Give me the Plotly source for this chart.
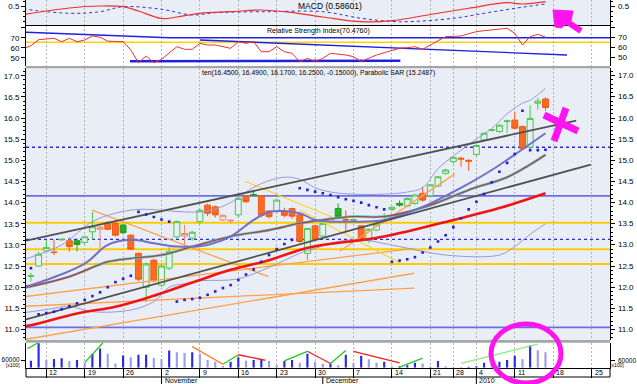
import plotly.graph_objects as go

# ---------------- data ----------------
# trading-day positions (0 = Mon 12 Oct 2009)
day = list(range(-2, 66))
opens = [12.26, 12.50, 12.86, 12.83, 13.12, 13.10, 13.10, 13.06, 13.31, 13.37,
         13.52, 13.51, 13.47, 13.23, 12.80, 12.00, 12.64, 12.05, 12.45, 13.19,
         13.21, 13.16, 13.55, 13.94, 13.90, 13.59, 13.57, 13.71, 14.15, 14.19,
         14.16, 13.80, 13.79, 13.78, 13.86, 13.71, 12.80, 13.45, 13.21, 13.55,
         13.86, 13.60, 13.58, 13.45, 13.10, 13.35, 13.66, 13.84, 13.98, 13.92,
         13.98, 14.22, 14.16, 14.39, 14.69, 14.97, 15.05, 15.00, 15.14, 15.48,
         15.71, 15.68, 15.92, 15.95, 15.80, 15.31, 16.35, 16.45]
highs = [12.34, 12.84, 13.12, 13.13, 13.15, 13.18, 13.15, 13.22, 13.78, 13.44,
         13.56, 13.53, 13.50, 13.25, 12.82, 12.58, 12.67, 12.55, 12.95, 13.58,
         13.47, 13.33, 13.85, 13.98, 13.93, 13.72, 13.60, 14.12, 14.17, 14.28,
         14.18, 13.82, 14.08, 13.88, 13.88, 13.73, 13.40, 13.47, 13.52, 13.65,
         13.98, 13.82, 13.62, 13.47, 13.39, 13.52, 13.75, 13.90, 14.05, 14.12,
         14.20, 14.38, 14.44, 14.63, 14.80, 15.10, 15.08, 15.02, 15.36, 15.66,
         15.75, 15.85, 15.96, 16.15, 15.82, 16.30, 16.48, 16.49]
lows = [12.13, 12.48, 12.83, 12.76, 13.10, 12.84, 12.85, 13.00, 13.12, 12.92,
        13.35, 13.20, 13.25, 12.88, 12.15, 11.65, 12.12, 12.00, 12.40, 13.15,
        13.00, 13.10, 13.50, 13.68, 13.65, 13.56, 13.50, 13.65, 14.00, 14.15,
        13.65, 13.62, 13.75, 13.65, 13.62, 13.05, 12.64, 13.10, 13.18, 13.52,
        13.62, 13.28, 13.52, 13.10, 13.05, 13.33, 13.58, 13.80, 13.90, 13.90,
        13.95, 14.02, 14.14, 14.37, 14.66, 14.92, 14.85, 14.75, 15.10, 15.45,
        15.68, 15.65, 15.65, 15.74, 15.26, 15.28, 16.20, 16.17]
closes = [12.27, 12.78, 12.94, 12.82, 13.13, 12.96, 13.01, 13.19, 13.43, 13.42,
          13.37, 13.23, 13.29, 12.90, 12.19, 12.55, 12.15, 12.50, 12.84, 13.55,
          13.27, 13.30, 13.82, 13.75, 13.71, 13.70, 13.58, 14.10, 14.02, 14.17,
          13.70, 13.67, 14.06, 13.70, 13.68, 13.08, 13.39, 13.13, 13.51, 13.63,
          13.67, 13.59, 13.60, 13.13, 13.37, 13.49, 13.67, 13.89, 13.94, 14.10,
          14.18, 14.06, 14.42, 14.61, 14.77, 15.07, 15.03, 14.98, 15.35, 15.64,
          15.72, 15.83, 15.93, 15.76, 15.28, 15.99, 16.40, 16.25]
volume = [54000, 190000, 60000, 68000, 74000, 52000, 60000, 38000, 109000, 150000,
          109000, 33000, 95000, 82000, 101000, 101000, 76000, 68000, 134000, 120000,
          115000, 120000, 109000, 60000, 46000, 13000, 46000, 82000, 54000, 60000,
          60000, 52000, 19000, 52000, 60000, 38000, 109000, 46000, 30000, 33000,
          19000, 101000, 38000, 93000, 66000, 38000, 46000, 11000, 11000, 19000,
          38000, 33000, 11000, 52000, 11000, 8000, 5000, 8000, 11000, 38000,
          33000, 46000, 60000, 93000, 66000, 175000, 137000, 120000]
sar = [12.45, 11.36, 11.39, 11.42, 11.48, 11.55, 11.62, 11.70, 11.79, 11.88,
       12.00, 12.12, 12.20, 12.27, 13.78, 13.72, 13.66, 13.60, 13.55, 11.66,
       11.70, 11.72, 11.75, 11.82, 11.90, 11.98, 12.05, 12.17, 12.30, 12.42,
       12.60, 12.76, 12.90, 13.02, 13.12, 14.34, 14.30, 14.26, 14.22, 14.18,
       14.13, 14.08, 14.04, 14.00, 13.94, 13.89, 13.84, 12.60, 12.63, 12.66,
       12.71, 12.82, 12.94, 13.08, 13.23, 13.42, 13.63, 13.84, 14.02, 14.20,
       14.48, 14.73, 14.94, 15.15, 16.17, 15.24, 15.24, 15.25]

# Bollinger-style bands and moving averages (read at selected days)
bb_up_x = [-3, -2, 2, 6, 9, 12, 15, 18, 21, 24, 26, 28, 31, 33, 35, 37, 40, 44, 47, 49, 51, 53, 56, 58, 60, 62, 63, 65]
bb_up = [12.65, 12.71, 13.00, 13.55, 13.75, 13.84, 13.82, 13.78, 13.80, 14.00, 14.25, 14.45, 14.60, 14.55,
         14.35, 14.25, 14.20, 14.20, 14.25, 14.35, 14.80, 15.10, 15.50, 15.75, 16.10, 16.35, 16.42, 16.70]
bb_lo_x = [-3, -2, 1, 3, 6, 11, 14, 16, 18, 20, 25, 30, 33, 35, 38, 41, 46, 52, 59, 61, 63, 65]
bb_lo = [11.40, 11.42, 11.50, 11.55, 11.42, 11.46, 11.66, 12.00, 12.08, 12.15, 12.20, 12.55, 12.80, 12.92,
         13.08, 13.12, 12.96, 12.76, 12.76, 12.96, 13.25, 13.50]
bb_mid_x = [-3, -2, 5, 8, 11, 14, 17, 21, 24, 27, 29, 33, 35, 40, 44, 49, 55, 58, 65]
bb_mid = [12.02, 12.05, 12.56, 13.00, 13.12, 13.04, 12.96, 13.00, 13.20, 13.59, 13.78, 13.75, 13.59, 13.55,
          13.59, 13.90, 14.45, 14.77, 15.64]
ma_mid_x = [-3, -2, 3, 8, 11, 15, 19, 24, 29, 33, 36, 40, 44, 50, 55, 60, 63, 65]
ma_mid = [11.99, 12.02, 12.25, 12.60, 12.68, 12.76, 12.96, 13.20, 13.35, 13.51, 13.59, 13.67, 13.67, 13.94,
          14.30, 14.60, 14.90, 15.13]
ma_long_x = [-3, -2, 4, 9, 13, 20, 24, 29, 33, 35, 44, 53, 59, 65]
ma_long = [11.08, 11.10, 11.38, 11.54, 11.74, 12.17, 12.41, 12.64, 12.88, 12.97, 13.20, 13.59, 13.87, 14.22]

# drawn trend lines on the price panel: [start day, end day], [start price, end price]
gray_lines_x = [[-2.64, 69.0], [-2.64, 70.9]]
gray_lines_y = [[13.10, 15.94], [11.24, 14.90]]
orange_lines_x = [[-2.64, 47.9], [-2.64, 47.9], [-2.64, 47.9], [5.95, 28.9], [38.2, 53.2]]
orange_lines_y = [[11.78, 12.92], [10.77, 12.33], [11.55, 11.98], [13.82, 12.25], [12.85, 14.68]]
yellow_lines_x = [[25.9, 37.6], [33.0, 46.1]]
yellow_lines_y = [[14.50, 13.63], [13.82, 12.57]]
yellow_levels = [13.525, 12.90, 12.55]
blue_levels = [14.16, 11.05]
dotted_levels = [15.31, 13.13]

# volume trend lines
vol_lines = {
    "green": ([[-2.47, -1], [5, 7.4], [23, 25], [31, 34], [37, 39], [46, 49]],
              [[148000, 197000], [40000, 197000], [27000, 101000], [54000, 128000], [33000, 134000], [5000, 74000]]),
    "red": ([[25, 28.5], [34, 37], [40, 46]],
            [[101000, 58000], [128000, 33000], [128000, 38000]]),
    "orange": ([[19, 23]], [[164000, 27000]]),
    "lightgreen": ([[54, 64]], [[33000, 183000]]),
}

# RSI
rsi_x = list(range(-3, 66))
rsi = [59, 62, 68, 68.5, 69.4, 66, 69.4, 66, 67.7, 71.7, 70.5, 66.5, 66, 66, 57.7, 45, 51.7, 45, 48.4, 55,
       61, 58.4, 58.4, 64.4, 62.7, 62.7, 61, 59.4, 66, 64.4, 66, 56, 56, 61, 56, 54.4, 46, 49.4, 46, 49.4,
       54.4, 53.5, 52.7, 51, 46, 49.5, 52.7, 55, 57.5, 59.4, 60, 61, 58.4, 63, 67, 71, 71.5, 71.7, 74, 76,
       77, 78, 79, 79.4, 74.4, 62.7, 71, 73.4, 70.5]
rsi_levels = [65.4]
rsi_lines_x = [[-2.64, 16, 73.4], [20, 67.8]]
rsi_lines_y = [[75.4, 70, 70], [67.7, 52.7]]
rsi_support_x = [10.9, 46.1]
rsi_support_y = [46.4, 47.0]

# MACD
macd_x = [-3, 3, 7, 10, 12, 15, 17, 20, 24, 28, 31, 36, 41, 45, 50, 55, 60, 62, 65]
macd = [0.33, 0.46, 0.50, 0.486, 0.40, 0.25, 0.28, 0.354, 0.386, 0.42, 0.386, 0.28, 0.186, 0.206, 0.33,
        0.455, 0.566, 0.54, 0.586]
signal_x = [-3, 3, 7, 10, 15, 19, 22, 29, 36, 41, 46, 53, 57, 61, 65]
signal = [0.44, 0.354, 0.386, 0.486, 0.434, 0.32, 0.366, 0.386, 0.386, 0.254, 0.186, 0.254, 0.354, 0.454, 0.54]

tick_pos = [0, 5, 10, 15, 20, 25, 30, 35, 40, 45, 50, 53, 56, 61, 66, 71]
tick_text = ["12", "19", "26", "2", "9", "16", "23", "30", "7", "14", "21", "28", "4", "11", "18", "25"]
month_pos = [15, 36, 56]
month_text = ["November", "December", "2010"]
price_ticks = [11.0, 11.5, 12.0, 12.5, 13.0, 13.5, 14.0, 14.5, 15.0, 15.5, 16.0, 16.5, 17.0]
rsi_ticks = [50, 60, 70]
macd_ticks = [0.5]
vol_ticks = [60000]

# ---------------- figure ----------------
W, H = 637, 384
ML, MR, MT, MB = 26, 27, 0, 16
PH = H - MT - MB
PW = W - ML - MR


def py(ypx):
    return (PH - ypx) / PH


def px(xpx):
    return (xpx - ML) / PW


BG = "#E9EEF6"
FONT = "Liberation Sans"
fig = go.Figure()

# volume bars
dark_x, dark_v, light_x, light_v = [], [], [], []
for i, (d, v) in enumerate(zip(day, volume)):
    if i == 0 or v >= volume[i - 1]:
        dark_x.append(d); dark_v.append(v)
    else:
        light_x.append(d); light_v.append(v)
fig.add_trace(go.Bar(x=dark_x, y=dark_v, width=0.28, marker=dict(color="#2A2AE6", line=dict(width=0)),
                     xaxis="x", yaxis="y"))
fig.add_trace(go.Bar(x=light_x, y=light_v, width=0.28, marker=dict(color="#9C9CF0", line=dict(width=0)),
                     xaxis="x", yaxis="y"))
vol_colors = {"green": "#22C822", "red": "#EE2020", "orange": "#FF7A20", "lightgreen": "#8AE88A"}
for key, (xs, ys) in vol_lines.items():
    for xx, yy in zip(xs, ys):
        fig.add_trace(go.Scatter(x=xx, y=yy, mode="lines", line=dict(color=vol_colors[key], width=1.3),
                                 xaxis="x", yaxis="y"))

# price panel lines
for xx, yy in zip(orange_lines_x, orange_lines_y):
    fig.add_trace(go.Scatter(x=xx, y=yy, mode="lines", line=dict(color="#FFA24A", width=1.3),
                             xaxis="x2", yaxis="y2"))
for xx, yy in zip(yellow_lines_x, yellow_lines_y):
    fig.add_trace(go.Scatter(x=xx, y=yy, mode="lines", line=dict(color="#FFD21E", width=1.1),
                             xaxis="x2", yaxis="y2"))
fig.add_trace(go.Scatter(x=bb_up_x, y=bb_up, mode="lines", line=dict(color="#9898D6", width=1, shape="spline"),
                         xaxis="x2", yaxis="y2"))
fig.add_trace(go.Scatter(x=bb_lo_x, y=bb_lo, mode="lines", line=dict(color="#9898D6", width=1, shape="spline"),
                         xaxis="x2", yaxis="y2"))
fig.add_trace(go.Scatter(x=ma_long_x, y=ma_long, mode="lines", line=dict(color="#F01414", width=2.6, shape="spline"),
                         xaxis="x2", yaxis="y2"))
fig.add_trace(go.Scatter(x=ma_mid_x, y=ma_mid, mode="lines", line=dict(color="#3CC8C8", width=2.6, shape="spline"),
                         xaxis="x2", yaxis="y2"))
fig.add_trace(go.Scatter(x=ma_mid_x, y=ma_mid, mode="lines", line=dict(color="#E02828", width=1.1, shape="spline"),
                         xaxis="x2", yaxis="y2"))
fig.add_trace(go.Scatter(x=bb_mid_x, y=bb_mid, mode="lines", line=dict(color="#7070C8", width=2, shape="spline"),
                         xaxis="x2", yaxis="y2"))
for xx, yy in zip(gray_lines_x, gray_lines_y):
    fig.add_trace(go.Scatter(x=xx, y=yy, mode="lines", line=dict(color="#505050", width=1.8),
                             xaxis="x2", yaxis="y2"))

# candles: green when close >= previous close, orange otherwise; hollow when close >= open
groups = {"g": ([], [], [], [], []), "o": ([], [], [], [], [])}
for i in range(len(day)):
    up = i == 0 or closes[i] >= closes[i - 1]
    g = groups["g" if up else "o"]
    for lst, val in zip(g, (day[i], opens[i], highs[i], lows[i], closes[i])):
        lst.append(val)
style = {"g": ("#48C848", "#1FA01F", "#22B422"), "o": ("#F2876A", "#F25A14", "#FF6A22")}
for key, (xx, oo, hh, ll, cc) in groups.items():
    hollow_line, filled_line, filled_fill = style[key]
    fig.add_trace(go.Candlestick(
        x=xx, open=oo, high=hh, low=ll, close=cc, xaxis="x2", yaxis="y2",
        increasing=dict(line=dict(color=hollow_line, width=1), fillcolor=BG),
        decreasing=dict(line=dict(color=filled_line, width=1), fillcolor=filled_fill),
        whiskerwidth=0, hoverinfo="skip"))

fig.add_trace(go.Scatter(x=day, y=sar, mode="markers",
                         marker=dict(color="#1E1EDC", size=2.6, symbol="square", line=dict(width=0)),
                         xaxis="x2", yaxis="y2"))

# RSI
for xx, yy in zip(rsi_lines_x, rsi_lines_y):
    fig.add_trace(go.Scatter(x=xx, y=yy, mode="lines", line=dict(color="#2020E0", width=1.4),
                             xaxis="x3", yaxis="y3"))
fig.add_trace(go.Scatter(x=rsi_support_x, y=rsi_support_y, mode="lines", line=dict(color="#2020E0", width=2.4),
                         xaxis="x3", yaxis="y3"))
fig.add_trace(go.Scatter(x=rsi_x, y=rsi, mode="lines", line=dict(color="#F03030", width=1),
                         xaxis="x3", yaxis="y3"))

# MACD
fig.add_trace(go.Scatter(x=signal_x, y=signal, mode="lines",
                         line=dict(color="#3030E0", width=1, dash="dot", shape="spline"),
                         xaxis="x4", yaxis="y4"))
fig.add_trace(go.Scatter(x=macd_x, y=macd, mode="lines", line=dict(color="#EE3030", width=1.2, shape="spline"),
                         xaxis="x4", yaxis="y4"))

# ---------------- layout ----------------
xr = [-2.643, 73.4]
tf = dict(family=FONT, size=8, color="#000000")
tf_small = dict(family=FONT, size=6.5, color="#000000")
common_x = dict(range=xr, tickmode="array", tickvals=tick_pos, showgrid=True, gridcolor="#B4B4B4",
                griddash="2px,2px", gridwidth=1, zeroline=False, showticklabels=False,
                rangeslider=dict(visible=False), fixedrange=True)
d_vol = [py(367.7), py(342.7)]
d_main = [py(340), py(68.3)]
d_rsi = [py(66), py(25)]
d_macd = [py(25), 1.0]

common_y = dict(showgrid=False, zeroline=False, showline=True, mirror="ticks", linecolor="#000000",
                linewidth=1, ticks="outside", ticklen=4, tickcolor="#000000", tickfont=tf, fixedrange=True,
                side="left")
y_vol = dict(range=[0, 195000], tickmode="array", tickvals=vol_ticks, ticktext=["60000"], tickfont=tf_small)
y_main = dict(range=[10.752, 17.175], tickmode="array", tickvals=price_ticks,
              ticktext=[f"{v:.1f}" for v in price_ticks],
              minor=dict(dtick=0.1, tick0=11, ticks="outside", ticklen=2, tickcolor="#000000", showgrid=False))
y_rsi = dict(range=[41.7, 82.7], tickmode="array", tickvals=rsi_ticks + [80],
             ticktext=[str(v) for v in rsi_ticks] + [""])
y_macd = dict(range=[0.12, 0.62], tickmode="array", tickvals=macd_ticks, ticktext=["0.5"],
              minor=dict(tickvals=[0.2, 0.3, 0.4, 0.6], ticks="outside", ticklen=2, tickcolor="#000000"))

fig.update_layout(
    width=W, height=H, margin=dict(l=ML, r=MR, t=MT, b=MB, pad=0, autoexpand=False),
    paper_bgcolor="#FFFFFF", plot_bgcolor="#FFFFFF", showlegend=False, barmode="overlay",
    boxgap=0.15, boxgroupgap=0.1,
    font=dict(family=FONT, size=8, color="#000000"),
    xaxis=dict(common_x, anchor="y", ticks="outside", ticklen=9, tickcolor="#000000",
               showline=True, linecolor="#000000", linewidth=1),
    xaxis2=dict(common_x, anchor="y2", matches="x", ticks=""),
    xaxis3=dict(common_x, anchor="y3", matches="x", ticks=""),
    xaxis4=dict(common_x, anchor="y4", matches="x", ticks="", showline=True, linecolor="#000000",
                linewidth=1.2),
    yaxis=dict(common_y, domain=d_vol, anchor="x", **y_vol),
    yaxis2=dict(common_y, domain=d_main, anchor="x2", **y_main),
    yaxis3=dict(common_y, domain=d_rsi, anchor="x3", **y_rsi),
    yaxis4=dict(common_y, domain=d_macd, anchor="x4", **y_macd),
)

shapes = []
# panel backgrounds
for xa, ya in [("x4", "y4"), ("x2", "y2")]:
    shapes.append(dict(type="rect", xref=f"{xa} domain", yref=f"{ya} domain", x0=0, x1=1, y0=0, y1=1,
                       fillcolor=BG, line=dict(width=0), layer="below"))
# horizontal levels on price panel
for v in yellow_levels:
    shapes.append(dict(type="line", xref="x2 domain", yref="y2", x0=0, x1=1, y0=v, y1=v,
                       line=dict(color="#FFCC00", width=2), layer="below"))
for v in blue_levels:
    shapes.append(dict(type="line", xref="x2 domain", yref="y2", x0=0, x1=1, y0=v, y1=v,
                       line=dict(color="#6E6EE4", width=1.6), layer="below"))
for v in dotted_levels:
    shapes.append(dict(type="line", xref="x2 domain", yref="y2", x0=0, x1=1, y0=v, y1=v,
                       line=dict(color="#2A2AD8", width=1.4, dash="dot"), layer="below"))
for v in rsi_levels:
    shapes.append(dict(type="line", xref="x3 domain", yref="y3", x0=0, x1=1, y0=v, y1=v,
                       line=dict(color="#FFD400", width=1.6), layer="below"))
# grey separators
for y0, y1 in [(py(68.3), py(66)), (py(342.7), py(340))]:
    shapes.append(dict(type="rect", xref="paper", yref="paper", x0=0, x1=1, y0=y0, y1=y1,
                       fillcolor="#A6A6A6", line=dict(width=0), layer="above"))
# date axis rows
shapes.append(dict(type="line", xref="paper", yref="paper", x0=0, x1=1, y0=py(377), y1=py(377),
                   line=dict(color="#000000", width=1)))
for xpx_ in [0, 1]:
    shapes.append(dict(type="line", xref="paper", yref="paper", x0=xpx_, x1=xpx_, y0=py(368), y1=py(377),
                       line=dict(color="#000000", width=1)))
for m in month_pos:
    shapes.append(dict(type="line", xref="x", yref="paper", x0=m, x1=m, y0=py(377), y1=py(386),
                       line=dict(color="#000000", width=1)))
# magenta hand-drawn marks
MAG = "#FF14EE"
shapes.append(dict(type="line", xref="paper", yref="paper", x0=px(581), y0=py(31), x1=px(563), y1=py(19),
                   line=dict(color=MAG, width=6)))
shapes.append(dict(type="path", xref="paper", yref="paper",
                   path=f"M {px(553)} {py(10)} L {px(573)} {py(11)} L {px(571)} {py(21)} L {px(561)} {py(28)} "
                        f"L {px(555)} {py(27)} Z",
                   fillcolor=MAG, line=dict(color=MAG, width=1)))
shapes.append(dict(type="line", xref="paper", yref="paper", x0=px(544), y0=py(115), x1=px(578), y1=py(131),
                   line=dict(color=MAG, width=7)))
shapes.append(dict(type="line", xref="paper", yref="paper", x0=px(566), y0=py(108), x1=px(554), y1=py(141),
                   line=dict(color=MAG, width=7)))
shapes.append(dict(type="circle", xref="paper", yref="paper", x0=px(491), x1=px(561), y0=py(383), y1=py(324),
                   line=dict(color=MAG, width=5)))
fig.update_layout(shapes=shapes)

ann = []
ann.append(dict(text="MACD (0.58601)", xref="paper", yref="paper", x=px(330), y=py(6), showarrow=False,
                font=dict(family=FONT, size=8.5, color="#000000"), xanchor="center", yanchor="middle"))
ann.append(dict(text="Relative Strength Index(70.4760)", xref="paper", yref="paper", x=px(318), y=py(31),
                showarrow=False, font=dict(family=FONT, size=7, color="#000000"),
                xanchor="center", yanchor="middle"))
ann.append(dict(text="ten(16.4500, 16.4900, 16.1700, 16.2500, -0.15000), Parabolic SAR (15.2487)",
                xref="paper", yref="paper", x=px(318.5), y=py(72.5), showarrow=False,
                font=dict(family=FONT, size=6.8, color="#000000"), xanchor="center", yanchor="middle"))
for xt, tt in zip(tick_pos, tick_text):
    ann.append(dict(text=tt, xref="x", yref="paper", x=xt, y=py(373), xanchor="left", yanchor="middle",
                    xshift=1, showarrow=False, font=dict(family=FONT, size=7, color="#000000")))
for xm, tm in zip(month_pos, month_text):
    ann.append(dict(text=tm, xref="x", yref="paper", x=xm, y=py(380.5), xanchor="left", yanchor="middle",
                    xshift=1, showarrow=False, font=dict(family=FONT, size=7, color="#000000")))
# right-hand tick labels
for yref, vals, fmt, fnt in [("y2", price_ticks, "{:.1f}", tf), ("y3", rsi_ticks, "{:d}", tf),
                             ("y4", macd_ticks, "{:.1f}", tf), ("y", vol_ticks, "{:d}", tf_small)]:
    for v in vals:
        ann.append(dict(text=fmt.format(v), xref="paper", yref=yref, x=1, y=v, xanchor="left",
                        yanchor="middle", xshift=6, showarrow=False, font=fnt))
ann.append(dict(text="[x100]", xref="paper", yref="paper", x=px(13), y=py(364.5), showarrow=False,
                font=dict(family=FONT, size=5, color="#000000"), xanchor="center", yanchor="middle"))
ann.append(dict(text="[x100]", xref="paper", yref="paper", x=px(617), y=py(365), showarrow=False,
                font=dict(family=FONT, size=5, color="#000000"), xanchor="center", yanchor="middle"))
fig.update_layout(annotations=ann)

fig.write_html("out.html", config={"displayModeBar": False, "staticPlot": True},
               post_script="document.body.style.margin='0';document.body.style.padding='0';"
                           "document.body.style.overflow='hidden';")
